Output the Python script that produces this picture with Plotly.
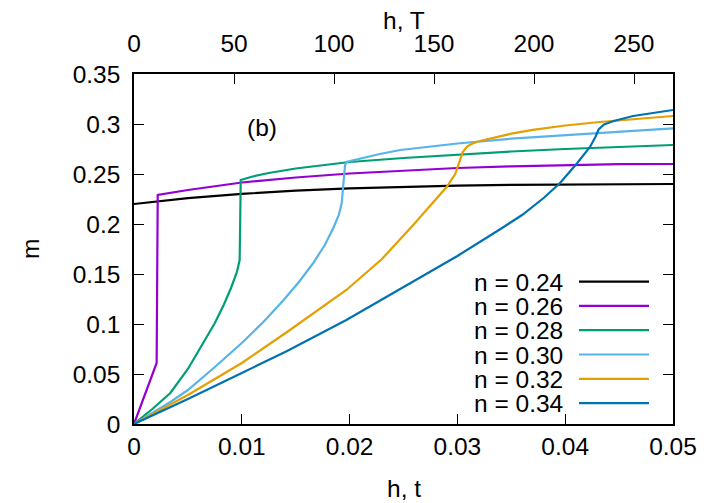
import plotly.graph_objects as go

# h, t -> h, T conversion
T_PER_t = 5390.0

labels = ["n = 0.24", "n = 0.26", "n = 0.28", "n = 0.30", "n = 0.32", "n = 0.34"]
colors = ["#000000", "#9400d3", "#009e73", "#56b4e9", "#e69f00", "#0072b2"]

x_024 = [0, 0.005, 0.01, 0.015, 0.02, 0.025, 0.03, 0.035, 0.04, 0.045, 0.05]
m_024 = [0.220, 0.2258, 0.2302, 0.2333, 0.2356, 0.2372, 0.2384, 0.2392, 0.2396, 0.2399, 0.240]

x_026 = [0, 0.0021, 0.0022, 0.005, 0.01, 0.015, 0.02, 0.025, 0.03, 0.035, 0.04, 0.045, 0.05]
m_026 = [0, 0.061, 0.229, 0.234, 0.2415, 0.2465, 0.2505, 0.2535, 0.2560, 0.2577, 0.2590, 0.2598, 0.260]

x_028 = [0, 0.0017, 0.00337, 0.005, 0.00647, 0.0075, 0.00832, 0.009, 0.00955, 0.0098,
         0.00985, 0.0099, 0.011, 0.0125, 0.015, 0.0175, 0.02, 0.025, 0.03, 0.035, 0.04, 0.045, 0.05]
m_028 = [0, 0.015, 0.031, 0.055, 0.082, 0.101, 0.119, 0.136, 0.152, 0.164,
         0.2, 0.244, 0.2475, 0.251, 0.2555, 0.259, 0.262, 0.266, 0.2695, 0.2725, 0.275, 0.2772, 0.279]

x_030 = [0, 0.0017, 0.00337, 0.005, 0.0075, 0.01, 0.012, 0.0138, 0.0153, 0.01663, 0.0177, 0.01849,
         0.019, 0.01927, 0.0194, 0.01957, 0.0197, 0.021, 0.0228, 0.0247, 0.0281, 0.03, 0.035,
         0.04, 0.045, 0.05]
m_030 = [0, 0.011, 0.022, 0.034, 0.057, 0.081, 0.102, 0.123, 0.142, 0.161, 0.179, 0.196,
         0.209, 0.221, 0.236, 0.258, 0.262, 0.2655, 0.270, 0.274, 0.2785, 0.2805, 0.2853,
         0.289, 0.2925, 0.2957]

x_032 = [0, 0.005, 0.01, 0.0142, 0.0197, 0.023, 0.0259, 0.028, 0.029, 0.0298, 0.0302,
         0.0305, 0.0309, 0.0314, 0.032, 0.0328, 0.035, 0.037, 0.04, 0.0432, 0.05]
m_032 = [0, 0.029, 0.061, 0.092, 0.134, 0.165, 0.199, 0.224, 0.237, 0.250, 0.262,
         0.272, 0.2775, 0.2805, 0.2828, 0.285, 0.2903, 0.2942, 0.2985, 0.302, 0.308]

x_034 = [0, 0.005, 0.01, 0.0142, 0.0197, 0.0259, 0.03, 0.034, 0.036, 0.038, 0.0395, 0.0411,
         0.0423, 0.0428, 0.0431, 0.0436, 0.0445, 0.0463, 0.05]
m_034 = [0, 0.025, 0.051, 0.073, 0.104, 0.143, 0.168, 0.195, 0.209, 0.226, 0.2407, 0.2607,
         0.277, 0.287, 0.2945, 0.2995, 0.303, 0.308, 0.314]

xs = [x_024, x_026, x_028, x_030, x_032, x_034]
ms = [m_024, m_026, m_028, m_030, m_032, m_034]

font = dict(family="Liberation Sans, Arial, sans-serif", size=24.5, color="black")

fig = go.Figure()
for x, m, c, name in zip(xs, ms, colors, labels):
    fig.add_trace(go.Scatter(x=x, y=m, mode="lines", name=name,
                             line=dict(color=c, width=2.2), showlegend=False))

# invisible trace so the top h, T axis gets drawn
fig.add_trace(go.Scatter(x=[0, 0.05 * T_PER_t], y=[0, 0], xaxis="x2", mode="lines",
                         line=dict(width=0), showlegend=False, hoverinfo="skip"))

axis_common = dict(showgrid=False, zeroline=False, showline=True, linecolor="black",
                   linewidth=1.5, ticks="inside", ticklen=10, tickcolor="black",
                   tickwidth=1, tickfont=font)

# page body has an 8px margin, so the figure is drawn 8px in from the corner
fig.update_layout(
    width=710, height=495,
    margin=dict(l=126, r=45, t=66, b=79),
    plot_bgcolor="white", paper_bgcolor="white",
    font=font,
    xaxis=dict(range=[0, 0.05], dtick=0.01, tick0=0, mirror=False,
               ticklabelstandoff=0, **axis_common),
    xaxis2=dict(range=[0, 0.05 * T_PER_t], dtick=50, tick0=0, overlaying="x",
                side="top", ticklabelstandoff=10, **axis_common),
    yaxis=dict(range=[0, 0.35], dtick=0.05, tick0=0, mirror="ticks",
               ticklabelstandoff=7, **axis_common),
)

# axis titles and panel label
fig.add_annotation(text="h, t", xref="paper", yref="paper", x=0.5, y=-0.183,
                   showarrow=False, font=font, yanchor="middle")
fig.add_annotation(text="h, T", xref="paper", yref="paper", x=0.5, y=1.154,
                   showarrow=False, font=font, yanchor="middle")
fig.add_annotation(text="m", xref="paper", yref="paper", x=-0.193, y=0.5,
                   showarrow=False, font=font, textangle=-90, xanchor="center")
fig.add_annotation(text="(b)", xref="x", yref="y", x=0.01187, y=0.297,
                   showarrow=False, font=font)

# gnuplot-style key: text on the left, line sample on the right
for i, (name, c) in enumerate(zip(labels, colors)):
    yk = (424 - (281.6 + 24.3 * i)) / 350
    fig.add_annotation(text=name, xref="paper", yref="paper", x=(565 - 134) / 539, y=yk,
                       xanchor="right", yanchor="middle", showarrow=False, font=font,
                       height=22)
    fig.add_shape(type="line", xref="paper", yref="paper",
                  x0=(579 - 134) / 539, x1=(649 - 134) / 539, y0=yk, y1=yk,
                  line=dict(color=c, width=2.2))

fig.write_html("out.html")
